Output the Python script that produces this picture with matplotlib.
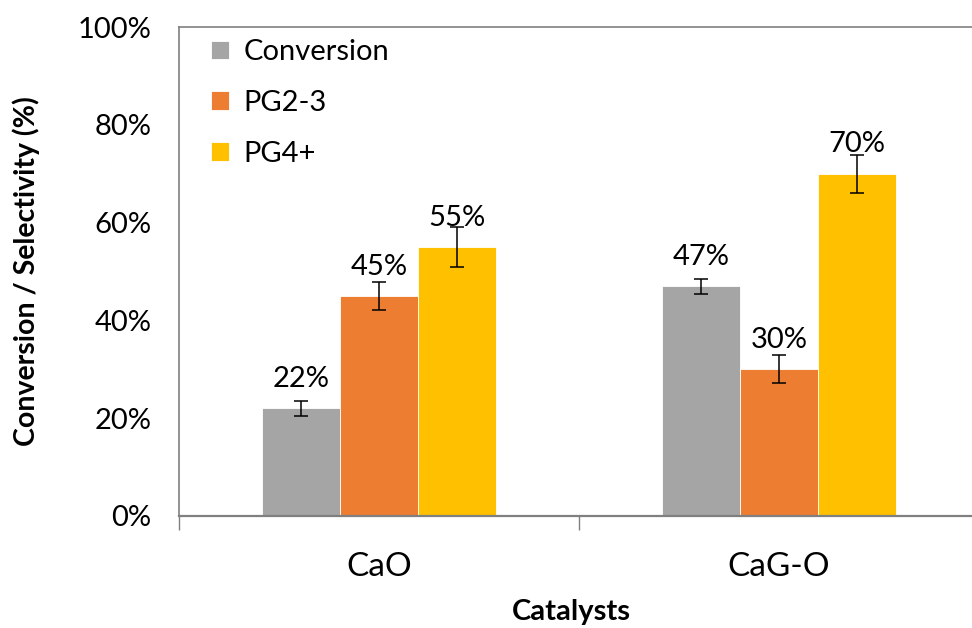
import numpy as np
import matplotlib.pyplot as plt
from matplotlib.ticker import FuncFormatter

# Data
catalysts = ["CaO", "CaG-O"]
series_names = ["Conversion", "PG2-3", "PG4+"]
conversion = [22, 47]
pg23 = [45, 30]
pg4 = [55, 70]
conversion_err = [1.5, 1.5]
pg23_err = [2.9, 2.9]
pg4_err = [4.0, 3.9]

COLORS = ["#A5A5A5", "#ED7D31", "#FFC000"]
GRID_GRAY = "#808080"

plt.rcParams["font.family"] = ["Lato", "DejaVu Sans"]

fig = plt.figure(figsize=(9.72, 6.28), dpi=100)
ax = fig.add_axes([179 / 972, (628 - 516) / 628, 800 / 972, (516 - 27) / 628])

x = np.arange(len(catalysts))
width = 0.195
values = [conversion, pg23, pg4]
errors = [conversion_err, pg23_err, pg4_err]

for i, (vals, errs, name) in enumerate(zip(values, errors, series_names)):
    pos = x + (i - 1) * width
    ax.bar(pos, vals, width=width, color=COLORS[i], label=name,
           edgecolor="white", linewidth=0.6, zorder=2)
    ax.errorbar(pos, vals, yerr=errs, fmt="none", ecolor="black",
                elinewidth=1.1, capsize=5, capthick=1.1, zorder=3)
    for p, v in zip(pos, vals):
        ax.text(p, v + 6, f"{v}%", ha="center", va="center",
                fontsize=21, color="black", zorder=4)

ax.set_xlim(-0.5, 1.5)
ax.set_ylim(0, 100)
ax.set_yticks(np.arange(0, 101, 20))
ax.yaxis.set_major_formatter(FuncFormatter(lambda v, _: f"{int(v)}%"))
ax.tick_params(axis="y", length=0, labelsize=21, pad=20)

# category separators as tick marks on the x axis
ax.set_xticks([-0.5, 0.5, 1.5])
ax.set_xticklabels([])
ax.set_xticks(x, minor=True)
ax.set_xticklabels(catalysts, minor=True)
ax.tick_params(axis="x", which="major", length=10, color=GRID_GRAY, width=1)
ax.tick_params(axis="x", which="minor", length=0, labelsize=24, pad=26)

for side in ["left", "bottom", "top", "right"]:
    ax.spines[side].set_color(GRID_GRAY)
    ax.spines[side].set_linewidth(1.2)
ax.spines["bottom"].set_linewidth(1.6)

ax.set_ylabel("Conversion / Selectivity (%)", fontsize=20.5, fontweight="bold")
ax.yaxis.set_label_coords(-139 / 800, 0.5)
ax.set_xlabel("Catalysts", fontsize=21, fontweight="bold", va="center")
ax.xaxis.set_label_coords(0.49, -96 / 489)

ax.legend(loc="upper left", bbox_to_anchor=(0.022, 1.005), frameon=False,
          fontsize=21, handlelength=0.6, handleheight=0.6, handletextpad=0.5,
          labelspacing=0.85, borderaxespad=0.1)

fig.savefig("out.png", dpi=100)
